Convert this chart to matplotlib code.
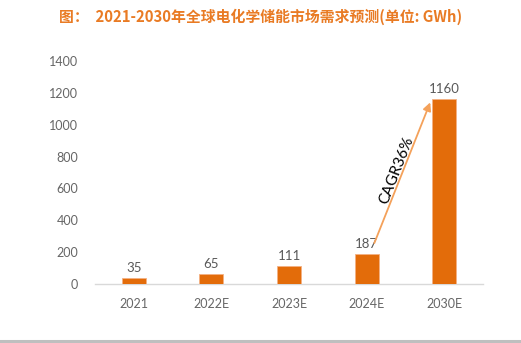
import numpy as np
import matplotlib.pyplot as plt
from matplotlib.lines import Line2D

# datos
years = ['2021', '2022E', '2023E', '2024E', '2030E']
demand = [35, 65, 111, 187, 1160]
y_ticks = [0, 200, 400, 600, 800, 1000, 1200, 1400]

plt.rcParams['font.family'] = ['Lato', 'DejaVu Sans']

fig = plt.figure(figsize=(5.21, 3.43), dpi=100)
ax = fig.add_axes([95 / 521, (343 - 284) / 343, 388 / 521, 223 / 343])

x = np.arange(len(years))
bar_color = '#E36C0A'
ax.bar(x, demand, width=0.31, color=bar_color, edgecolor='#F4B183', linewidth=0.6, zorder=3)

for xi, v in zip(x, demand):
    ax.text(xi, v + 25, str(v), ha='center', va='bottom', fontsize=9.5, color='#595959')

ax.set_xlim(-0.5, len(years) - 0.5)
ax.set_ylim(0, 1400)
ax.set_yticks(y_ticks)
ax.set_xticks(x)
ax.set_xticklabels(years)
ax.tick_params(axis='both', length=0, labelsize=9, labelcolor='#666666')
ax.tick_params(axis='x', pad=10)
ax.tick_params(axis='y', pad=12)

for side in ['top', 'right', 'left']:
    ax.spines[side].set_visible(False)
ax.spines['bottom'].set_color('#D9D9D9')
ax.spines['bottom'].set_linewidth(1.0)

# flecha CAGR
ax.annotate('', xy=(3.82, 1140), xytext=(3.1, 257),
            arrowprops=dict(arrowstyle='-|>', color='#F4A15A', lw=1.3,
                            mutation_scale=12, shrinkA=0, shrinkB=0))
ax.text(3.39, 716, 'CAGR36%', rotation=68.5, ha='center', va='center',
        fontsize=11, color='black', rotation_mode='anchor')

fig.text(0.5, 1 - 17 / 343, '图：  2021-2030年全球电化学储能市场需求预测(单位: GWh)',
         ha='center', va='center', fontsize=10.7, fontweight='bold', color='#E97B24',
         family=['Noto Sans CJK SC', 'DejaVu Sans'])

fig.add_artist(Line2D([0, 1], [1 - 340.5 / 343, 1 - 340.5 / 343], color='#BFBFBF', lw=2.2,
                      transform=fig.transFigure))

fig.savefig('out.png', dpi=100)
